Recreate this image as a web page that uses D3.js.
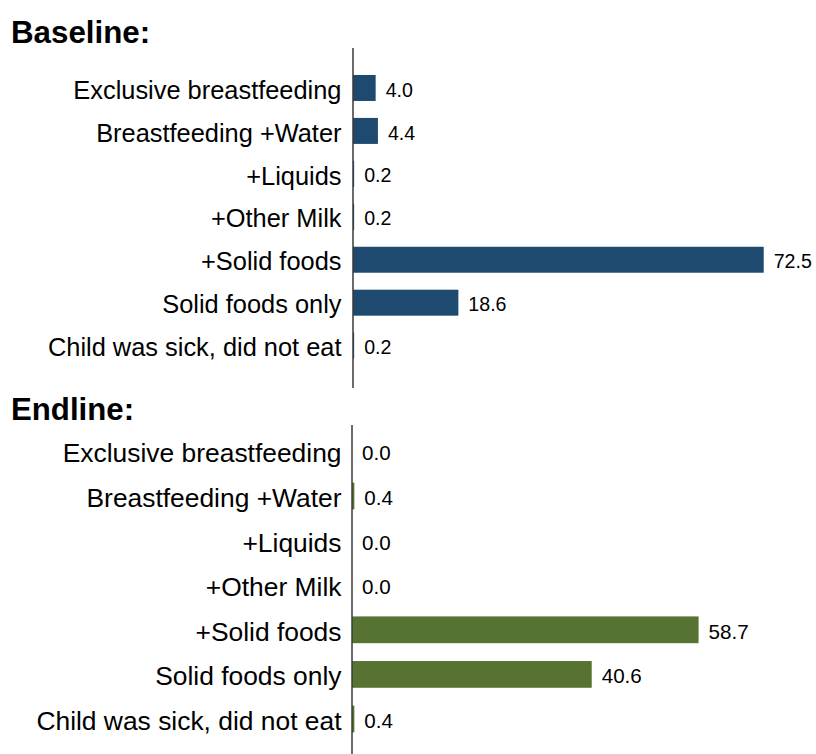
<!DOCTYPE html>
<html>
<head>
<meta charset="utf-8">
<script src="https://cdn.jsdelivr.net/npm/d3@7"></script>
<style>
  html, body { margin: 0; padding: 0; background: #fff; }
  svg { display: block; }
  text { font-family: "Liberation Sans", Arial, sans-serif; fill: #000; }
</style>
</head>
<body>
<svg id="chart" width="816" height="754"></svg>
<script>
// ---- Data ----
const categories = [
  "Exclusive breastfeeding",
  "Breastfeeding +Water",
  "+Liquids",
  "+Other Milk",
  "+Solid foods",
  "Solid foods only",
  "Child was sick, did not eat"
];
const baselineValues = [4.0, 4.4, 0.2, 0.2, 72.5, 18.6, 0.2];
const endlineValues  = [0.0, 0.4, 0.0, 0.0, 58.7, 40.6, 0.4];
const panelTitles = ["Baseline:", "Endline:"];

// ---- Layout ----
const svg = d3.select("#chart");

const panels = [
  {
    title: panelTitles[0], values: baselineValues, color: "#1F4A70",
    titleY: 42.5, titleSize: 31.3,
    x0: 353, xDomainMax: 80, xRangeWidth: 453.2,
    bandTop: 66.5, bandBottom: 367.1, padInner: 0.395,
    axisTop: 48, axisBottom: 388, tickPad: 11.5,
    labelSize: 25.4, valueSize: 19.6
  },
  {
    title: panelTitles[1], values: endlineValues, color: "#577332",
    titleY: 419.5, titleSize: 31.2,
    x0: 352, xDomainMax: 70, xRangeWidth: 413.3,
    bandTop: 429.1, bandBottom: 741.3, padInner: 0.40,
    axisTop: 425, axisBottom: 760, tickPad: 10.5,
    labelSize: 26.4, valueSize: 20.6
  }
];

panels.forEach(p => {
  const g = svg.append("g");

  const x = d3.scaleLinear()
    .domain([0, p.xDomainMax])
    .range([p.x0, p.x0 + p.xRangeWidth]);

  const y = d3.scaleBand()
    .domain(categories)
    .range([p.bandTop, p.bandBottom])
    .paddingInner(p.padInner)
    .paddingOuter(p.padInner / 2);

  // Title
  g.append("text")
    .attr("x", 11)
    .attr("y", p.titleY)
    .style("font-size", p.titleSize + "px")
    .style("font-weight", "bold")
    .text(p.title);

  // Bars
  g.selectAll("rect.bar")
    .data(p.values)
    .join("rect")
    .attr("class", "bar")
    .attr("x", x(0))
    .attr("y", (d, i) => y(categories[i]))
    .attr("width", d => Math.max(0, x(d) - x(0)))
    .attr("height", y.bandwidth())
    .attr("fill", p.color);

  // Category axis (left) using d3 axis, then restyle
  const axis = d3.axisLeft(y).tickSize(0).tickPadding(p.tickPad);
  const ax = g.append("g")
    .attr("transform", `translate(${x(0)},0)`)
    .call(axis);
  ax.select(".domain").remove();
  ax.selectAll("text")
    .style("font-size", p.labelSize + "px")
    .style("font-family", '"Liberation Sans", Arial, sans-serif')
    .attr("fill", "#000")
    .attr("dy", "0.42em");

  // Vertical axis line
  g.append("line")
    .attr("x1", x(0)).attr("x2", x(0))
    .attr("y1", p.axisTop).attr("y2", p.axisBottom)
    .attr("stroke", "#3a3a3a")
    .attr("stroke-width", 1.5);

  // Value labels
  g.selectAll("text.val")
    .data(p.values)
    .join("text")
    .attr("class", "val")
    .attr("x", d => x(d) + 10)
    .attr("y", (d, i) => y(categories[i]) + y.bandwidth() / 2)
    .attr("dy", "0.44em")
    .style("font-size", p.valueSize + "px")
    .text(d => d.toFixed(1));
});
</script>
</body>
</html>
